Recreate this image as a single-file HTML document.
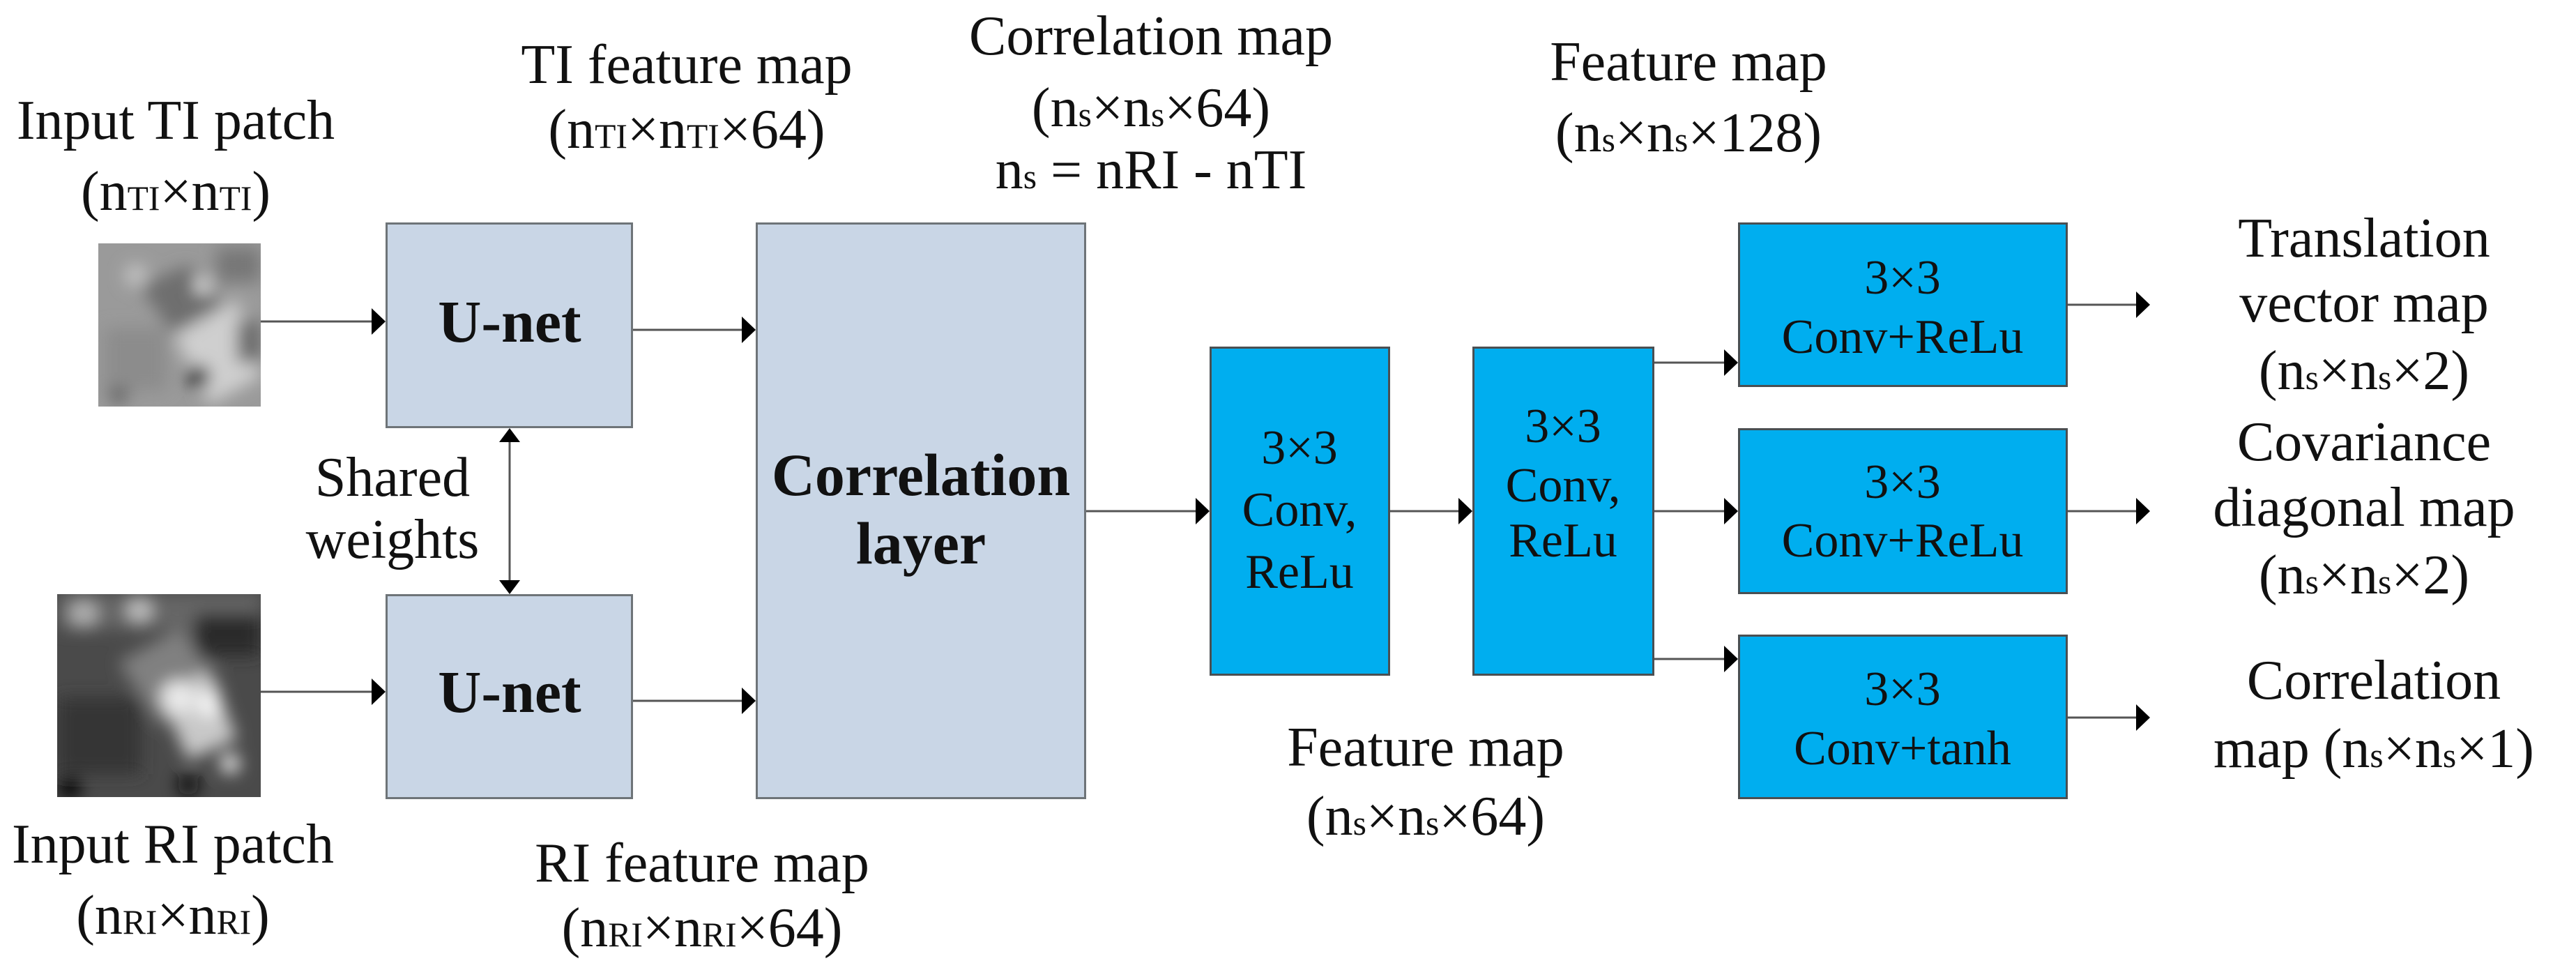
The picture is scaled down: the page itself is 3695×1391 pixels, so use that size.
<!DOCTYPE html>
<html><head><meta charset="utf-8"><style>
body{margin:0;background:#fff;}
#c{position:relative;width:3695px;height:1391px;overflow:hidden;background:#fff;font-family:"Liberation Serif","DejaVu Serif",serif;color:#111;}
.t{position:absolute;width:900px;margin-left:-450px;text-align:center;font-family:"Liberation Serif","DejaVu Serif",serif;font-size:80px;line-height:80px;white-space:nowrap;}
.b{font-weight:bold;font-size:86px;line-height:86px;}
.s{font-size:70px;line-height:70px;}
.sm{font-size:0.62em;}
.box{position:absolute;box-sizing:border-box;}
.g{background:#c9d6e6;border:3px solid #6e7478;}
.bl{background:#00aeef;border:3px solid #4a4f52;}
</style></head><body><div id="c">
<svg width="3695" height="1391" style="position:absolute;left:0;top:0">
<defs>
<filter id="bl"><feGaussianBlur stdDeviation="12"/></filter>
<clipPath id="c1"><rect x="141" y="349" width="233" height="234"/></clipPath>
<clipPath id="c2"><rect x="82" y="852" width="292" height="291"/></clipPath>
</defs>
<g clip-path="url(#c1)">
<rect x="141" y="349" width="233" height="234" fill="#9a9a9a"/>
<g filter="url(#bl)">
<polygon points="200,410 270,380 320,440 250,480" fill="#6e6e6e"/>
<polygon points="250,480 340,430 374,540 300,580" fill="#cfcfcf"/>
<rect x="310" y="355" width="64" height="50" fill="#777"/>
<circle cx="290" cy="410" r="10" fill="#f5f5f5"/>
<circle cx="285" cy="540" r="16" fill="#111"/>
<circle cx="170" cy="560" r="14" fill="#222"/>
<rect x="150" y="470" width="90" height="90" fill="#8c8c8c"/>
<circle cx="195" cy="395" r="16" fill="#c4c4c4"/>
<rect x="340" y="460" width="34" height="60" fill="#6a6a6a"/>
</g></g>
<g clip-path="url(#c2)">
<rect x="82" y="852" width="292" height="291" fill="#4a4a4a"/>
<g filter="url(#bl)">
<rect x="82" y="852" width="292" height="50" fill="#666"/>
<polygon points="170,950 260,900 320,990 230,1040" fill="#808080"/>
<polygon points="230,1000 300,960 340,1060 270,1090" fill="#c8c8c8"/>
<circle cx="255" cy="1000" r="24" fill="#eaeaea"/>
<circle cx="300" cy="1010" r="18" fill="#f5f5f5"/>
<circle cx="330" cy="1095" r="14" fill="#eee"/>
<circle cx="120" cy="880" r="20" fill="#b0b0b0"/>
<circle cx="200" cy="875" r="18" fill="#c0c0c0"/>
<circle cx="100" cy="1130" r="16" fill="#000"/>
<circle cx="270" cy="1125" r="16" fill="#111"/>
<rect x="82" y="1000" width="120" height="110" fill="#363636"/>
<rect x="280" y="880" width="94" height="60" fill="#2a2a2a"/>
</g></g>
<g stroke="#555" stroke-width="3" fill="none">
<line x1="374" y1="461" x2="540" y2="461"/>
<line x1="374" y1="992" x2="540" y2="992"/>
<line x1="908" y1="473" x2="1070" y2="473"/>
<line x1="908" y1="1005" x2="1070" y2="1005"/>
<line x1="731" y1="630" x2="731" y2="836"/>
<line x1="1558" y1="733" x2="1720" y2="733"/>
<line x1="1994" y1="733" x2="2098" y2="733"/>
<line x1="2373" y1="520" x2="2478" y2="520"/>
<line x1="2373" y1="733" x2="2478" y2="733"/>
<line x1="2373" y1="945" x2="2478" y2="945"/>
<line x1="2966" y1="437" x2="3070" y2="437"/>
<line x1="2966" y1="733" x2="3070" y2="733"/>
<line x1="2966" y1="1029" x2="3070" y2="1029"/>
</g>
<g fill="#000">
<polygon points="533,442 553,461 533,480"/>
<polygon points="533,973 553,992 533,1011"/>
<polygon points="1064,454 1084,473 1064,492"/>
<polygon points="1064,986 1084,1005 1064,1024"/>
<polygon points="716,634 731,614 746,634"/>
<polygon points="716,832 731,852 746,832"/>
<polygon points="1715,714 1735,733 1715,752"/>
<polygon points="2092,714 2112,733 2092,752"/>
<polygon points="2473,501 2493,520 2473,539"/>
<polygon points="2473,714 2493,733 2473,752"/>
<polygon points="2473,926 2493,945 2473,964"/>
<polygon points="3064,418 3084,437 3064,456"/>
<polygon points="3064,714 3084,733 3064,752"/>
<polygon points="3064,1010 3084,1029 3064,1048"/>
</g>
</svg>

<div class="box g" style="left:553px;top:319px;width:355px;height:295px"></div>
<div class="box g" style="left:553px;top:852px;width:355px;height:294px"></div>
<div class="box g" style="left:1084px;top:319px;width:474px;height:827px"></div>
<div class="box bl" style="left:1735px;top:497px;width:259px;height:472px"></div>
<div class="box bl" style="left:2112px;top:497px;width:261px;height:472px"></div>
<div class="box bl" style="left:2493px;top:319px;width:473px;height:236px"></div>
<div class="box bl" style="left:2493px;top:614px;width:473px;height:238px"></div>
<div class="box bl" style="left:2493px;top:910px;width:473px;height:236px"></div>

<div class="t" style="left:252px;top:133px">Input TI patch</div>
<div class="t" style="left:252px;top:235px">(n<span class="sm">TI</span>×n<span class="sm">TI</span>)</div>
<div class="t" style="left:985px;top:53px">TI feature map</div>
<div class="t" style="left:985px;top:146px">(n<span class="sm">TI</span>×n<span class="sm">TI</span>×64)</div>
<div class="t" style="left:1651px;top:12px">Correlation map</div>
<div class="t" style="left:1651px;top:115px">(n<span class="sm">s</span>×n<span class="sm">s</span>×64)</div>
<div class="t" style="left:1651px;top:204px">n<span class="sm">s</span> = nRI - nTI</div>
<div class="t" style="left:2422px;top:49px">Feature map</div>
<div class="t" style="left:2422px;top:151px">(n<span class="sm">s</span>×n<span class="sm">s</span>×128)</div>
<div class="t" style="left:563px;top:645px">Shared</div>
<div class="t" style="left:563px;top:734px">weights</div>
<div class="t b" style="left:731px;top:418px">U-net</div>
<div class="t b" style="left:731px;top:949px">U-net</div>
<div class="t b" style="left:1321px;top:638px">Correlation</div>
<div class="t b" style="left:1321px;top:736px">layer</div>
<div class="t" style="left:248px;top:1171px">Input RI patch</div>
<div class="t" style="left:248px;top:1273px">(n<span class="sm">RI</span>×n<span class="sm">RI</span>)</div>
<div class="t" style="left:1007px;top:1198px">RI feature map</div>
<div class="t" style="left:1007px;top:1291px">(n<span class="sm">RI</span>×n<span class="sm">RI</span>×64)</div>
<div class="t" style="left:2045px;top:1032px">Feature map</div>
<div class="t" style="left:2045px;top:1131px">(n<span class="sm">s</span>×n<span class="sm">s</span>×64)</div>

<div class="t s" style="left:1864px;top:608px">3×3</div>
<div class="t s" style="left:1864px;top:697px">Conv,</div>
<div class="t s" style="left:1864px;top:786px">ReLu</div>
<div class="t s" style="left:2242px;top:577px">3×3</div>
<div class="t s" style="left:2242px;top:662px">Conv,</div>
<div class="t s" style="left:2242px;top:741px">ReLu</div>
<div class="t s" style="left:2729px;top:364px">3×3</div>
<div class="t s" style="left:2729px;top:449px">Conv+ReLu</div>
<div class="t s" style="left:2729px;top:657px">3×3</div>
<div class="t s" style="left:2729px;top:741px">Conv+ReLu</div>
<div class="t s" style="left:2729px;top:954px">3×3</div>
<div class="t s" style="left:2729px;top:1039px">Conv+tanh</div>

<div class="t" style="left:3391px;top:302px">Translation</div>
<div class="t" style="left:3391px;top:395px">vector map</div>
<div class="t" style="left:3391px;top:492px">(n<span class="sm">s</span>×n<span class="sm">s</span>×2)</div>
<div class="t" style="left:3391px;top:594px">Covariance</div>
<div class="t" style="left:3391px;top:688px">diagonal map</div>
<div class="t" style="left:3391px;top:785px">(n<span class="sm">s</span>×n<span class="sm">s</span>×2)</div>
<div class="t" style="left:3405px;top:936px">Correlation</div>
<div class="t" style="left:3405px;top:1034px">map (n<span class="sm">s</span>×n<span class="sm">s</span>×1)</div>
</div></body></html>
